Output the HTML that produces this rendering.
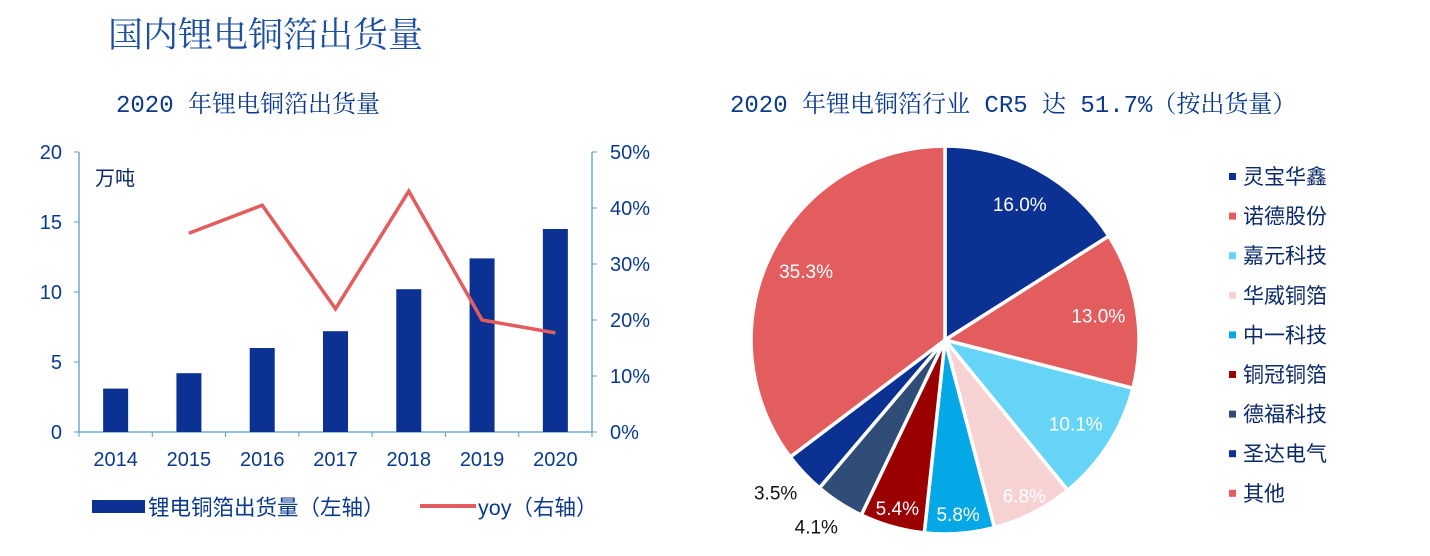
<!DOCTYPE html>
<html><head><meta charset="utf-8">
<style>
html,body{margin:0;padding:0;background:#fff;}
body{width:1430px;height:556px;overflow:hidden;position:relative;font-family:"Liberation Sans","Noto Sans CJK SC",sans-serif;}
.t{position:absolute;white-space:nowrap;}
</style></head>
<body>
<div class="t" style="left:108px;top:8px;font-size:35px;color:#1e4fa0;font-family:'Liberation Serif','Noto Serif CJK SC',serif;">国内锂电铜箔出货量</div>
<div class="t" style="left:116px;top:84px;font-size:24px;color:#0b3a8c;font-family:'Liberation Mono','Noto Serif CJK SC',monospace;">2020 年锂电铜箔出货量</div>
<div class="t" style="left:730px;top:84px;font-size:24px;color:#0b3a8c;font-family:'Liberation Mono','Noto Serif CJK SC',monospace;">2020 年锂电铜箔行业 CR5 达 51.7%（按出货量）</div>
<svg id="chart" width="1430" height="556" style="position:absolute;left:0;top:0"></svg>
<script>
const years=["2014","2015","2016","2017","2018","2019","2020"];
const shipments=[3.1,4.2,6.0,7.2,10.2,12.4,14.5];
const yoy=[null,35.5,40.5,22.0,43.0,20.0,17.7];
const leftTicks=[0,5,10,15,20];
const rightTicks=[0,10,20,30,40,50];
const pieNames=["灵宝华鑫","诺德股份","嘉元科技","华威铜箔","中一科技","铜冠铜箔","德福科技","圣达电气","其他"];
const pieValues=[16.0,13.0,10.1,6.8,5.8,5.4,4.1,3.5,35.3];
const pieColors=["#0b3192","#e35d5f","#66d4f7","#f6d2d3","#05a8e6","#9a0000","#2f4d76","#0b3192","#e35d5f"];

const NS="http://www.w3.org/2000/svg";
const svg=document.getElementById('chart');
function mk(tag,attrs,parent){const e=document.createElementNS(NS,tag);for(const k in attrs)e.setAttribute(k,attrs[k]);(parent||svg).appendChild(e);return e;}
const x0=79,x1=592,yb=432,yt=152;
const band=(x1-x0)/years.length;
const xs=i=>x0+band*(i+0.5);
const yL=v=>yb-(v/20)*(yb-yt);
const yR=v=>yb-(v/50)*(yb-yt);
const axisC="#5b9bd5",txtC="#0b3a8c";
let e;
e=mk('line',{x1:x0,y1:yt,x2:x0,y2:yb,stroke:axisC,'stroke-width':1.3});

e=mk('line',{x1:x1,y1:yt,x2:x1,y2:yb,stroke:axisC,'stroke-width':1.3});

e=mk('line',{x1:x0,y1:yb,x2:x1,y2:yb,stroke:axisC,'stroke-width':1.3});

leftTicks.forEach(v=>{
  mk('line',{x1:x0-5,y1:yL(v),x2:x0,y2:yL(v),stroke:axisC});
  const t=mk('text',{x:x0-17,y:yL(v)+7,'text-anchor':'end','font-size':20,fill:txtC});
  t.textContent=v;
  
  
});
rightTicks.forEach(v=>{
  mk('line',{x1:x1,y1:yR(v),x2:x1+5,y2:yR(v),stroke:axisC});
  const t=mk('text',{x:x1+18,y:yR(v)+7,'font-size':20,fill:txtC});
  t.textContent=v+'%';
  
  
});
for(let i=0;i<=years.length;i++)mk('line',{x1:x0+band*i,y1:yb,x2:x0+band*i,y2:yb+5,stroke:axisC});
years.forEach((y,i)=>{
  const r=mk('rect',{x:xs(i)-12.5,y:yL(shipments[i]),width:25,height:yb-yL(shipments[i]),fill:'#0b3192'});
  
  
  const t=mk('text',{x:xs(i),y:466,'text-anchor':'middle','font-size':20,fill:txtC});
  t.textContent=y;
  
  
});
let pts=[];yoy.forEach((v,i)=>{if(v!=null)pts.push(xs(i)+','+yR(v));});
e=mk('polyline',{points:pts.join(' '),fill:'none',stroke:'#e35d5f','stroke-width':3.5,'stroke-linejoin':'miter'});

e=mk('text',{x:95,y:185,'font-size':20,fill:'#0b2a6a'});e.textContent='万吨';

// legend
e=mk('rect',{x:92,y:500,width:53,height:13,fill:'#0b3192'});

e=mk('text',{x:148,y:515,'font-size':21.5,fill:txtC});e.textContent='锂电铜箔出货量（左轴）';

e=mk('line',{x1:420,y1:506,x2:476,y2:506,stroke:'#e35d5f','stroke-width':4});

e=mk('text',{x:478,y:515,'font-size':21.5,fill:txtC});e.textContent='yoy（右轴）';


// pie
const cx=945,cy=340,R=194;
const total=pieValues.reduce((a,b)=>a+b,0);
let a0=-Math.PI/2;
pieValues.forEach((v,i)=>{
  const a1=a0+v/total*2*Math.PI;
  const large=(a1-a0)>Math.PI?1:0;
  const p=`M${cx},${cy} L${cx+R*Math.cos(a0)},${cy+R*Math.sin(a0)} A${R},${R} 0 ${large} 1 ${cx+R*Math.cos(a1)},${cy+R*Math.sin(a1)} Z`;
  const s=mk('path',{d:p,fill:pieColors[i],stroke:'#fff','stroke-width':3.5,'stroke-linejoin':'round'});
  
  
  const am=(a0+a1)/2;
  const small=i===6||i===7;
  const rr=small?R+28:(v>9?R*0.8:R*0.9);
  let lx=cx+rr*Math.cos(am)-(small?8:0),ly=cy+rr*Math.sin(am);
  const t=mk('text',{x:lx,y:ly+7,'text-anchor':'middle','font-size':19,fill:small?'#111':'#fff'});
  t.textContent=v.toFixed(1)+'%';
  
  
  a0=a1;
});
pieNames.forEach((n,i)=>{
  const y=177+i*39.6;
  const r=mk('rect',{x:1229,y:y-4,width:7,height:7,fill:pieColors[i]});
  
  
  const t=mk('text',{x:1243,y:y+7,'font-size':21,fill:'#0b2a6a'});
  t.textContent=n;
  
  
});
</script>
</body></html>
